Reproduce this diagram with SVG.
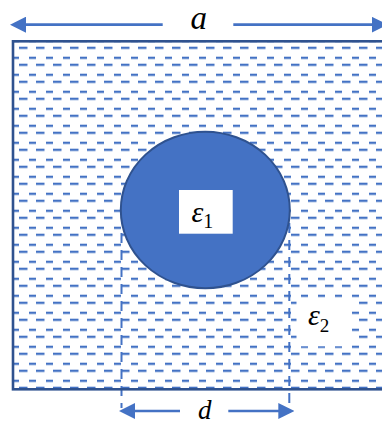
<svg xmlns="http://www.w3.org/2000/svg" width="382" height="425" viewBox="0 0 382 425">
  <style>
    .math { font-family: "Liberation Serif", "DejaVu Serif", serif; font-style: italic; fill: #000; }
    .sub { font-style: normal; }
    .conn { stroke: #4472C4; stroke-width: 2.7; fill: none; }
    .guide { stroke: #4472C4; stroke-width: 2; fill: none; stroke-dasharray: 10 7; }
  </style>
  <defs>
    <pattern id="dashH" patternUnits="userSpaceOnUse" x="19" y="46.7" width="17" height="17">
      <rect x="0" y="0" width="8.5" height="2.3" fill="#4472C4"/>
      <rect x="10" y="10" width="7" height="2.3" fill="#4472C4"/>
    </pattern>
    <marker id="arrow" viewBox="0 0 16 16" refX="6" refY="8" markerWidth="16" markerHeight="16" markerUnits="userSpaceOnUse" orient="auto">
      <path d="M0,0 L16,8 L0,16 z" fill="#4472C4"/>
    </marker>
  </defs>

  <rect width="382" height="425" fill="#ffffff"/>

  <g id="medium">
    <rect x="13" y="41.3" width="382" height="348" fill="#ffffff"/>
    <rect x="13" y="41.3" width="382" height="348" fill="url(#dashH)"/>
  </g>

  <g id="connectors">
    <line class="guide" x1="121.5" y1="233" x2="121.5" y2="408"/>
    <line class="guide" x1="289.3" y1="223" x2="289.3" y2="413"/>
    <line class="conn" x1="162.7" y1="24.7" x2="20" y2="24.7" marker-end="url(#arrow)"/>
    <line class="conn" x1="233.3" y1="24.7" x2="377.7" y2="24.7" marker-end="url(#arrow)"/>
    <line class="conn" x1="180" y1="411" x2="129" y2="411" marker-end="url(#arrow)"/>
    <line class="conn" x1="228.3" y1="411" x2="284.3" y2="411" marker-end="url(#arrow)"/>
  </g>

  <g id="border">
    <rect x="13" y="41.3" width="382" height="348" fill="none" stroke="#2F528F" stroke-width="2.6"/>
  </g>

  <g id="cylinder">
    <ellipse cx="205.3" cy="210" rx="84.5" ry="78.3" fill="#4472C4" stroke="#2F528F" stroke-width="2"/>
    <rect x="179" y="190" width="53.7" height="43.7" fill="#ffffff"/>
    <text class="math" x="191.5" y="221.8" font-size="30">ε<tspan class="sub" font-size="20" dy="6.5">1</tspan></text>
  </g>

  <g id="eps2">
    <rect x="296.5" y="298" width="55" height="48.3" fill="#ffffff"/>
    <text class="math" x="308" y="324.5" font-size="30">ε<tspan class="sub" font-size="19" dy="7">2</tspan></text>
  </g>

  <g id="labels">
    <text class="math" x="198.7" y="29" font-size="33" text-anchor="middle">a</text>
    <text class="math" x="204.7" y="418.5" font-size="27" text-anchor="middle">d</text>
  </g>
</svg>
